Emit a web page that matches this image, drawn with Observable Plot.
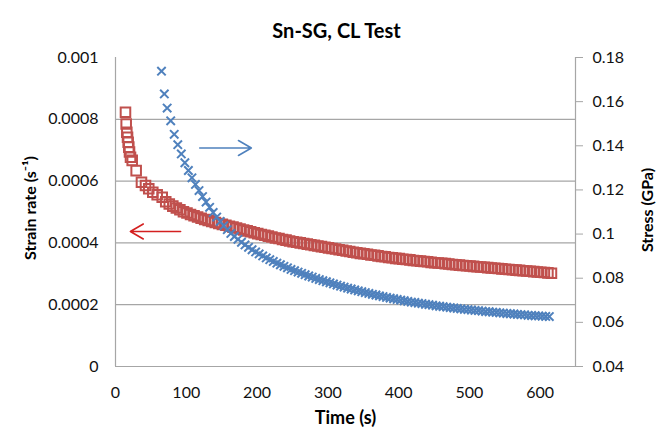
<!DOCTYPE html>
<html><head><meta charset="utf-8">
<script src="https://cdn.jsdelivr.net/npm/d3@7"></script>
<script src="https://cdn.jsdelivr.net/npm/@observablehq/plot@0.6"></script>
<style>body{margin:0;background:#fff}</style>
</head><body><div id="chart"></div>
<script>
const title = "Sn-SG, CL Test";
const xLabel = "Time (s)";
const yLeftLabel = "Strain rate (s\u207B\u00B9)";
const yRightLabel = "Stress (GPa)";
const timeTicks = [0, 100, 200, 300, 400, 500, 600];
const strainTicks = [0, 0.0002, 0.0004, 0.0006, 0.0008, 0.001];
const stressTicks = [0.04, 0.06, 0.08, 0.1, 0.12, 0.14, 0.16, 0.18];
const gridStrain = [0.0002, 0.0004, 0.0006, 0.0008];

// Strain rate series (red squares), values in 10^-6 s^-1
const timeRed = [14.1,15.1,16,17,17.9,18.8,19.8,21.2,23.6,29.2,36.7,42.4,47,52.7,58.9,66,
71,76,81,86,91,96,101,106,111,116,121,126,131,136,141,146,151,156,161,166,
171,176,181,186,191,196,201,206,211,216,221,226,231,236,241,246,251,256,261,266,
271,276,281,286,291,296,301,306,311,316,321,326,331,336,341,346,351,356,361,366,
371,376,381,386,391,396,401,406,411,416,421,426,431,436,441,446,451,456,461,466,
471,476,481,486,491,496,501,506,511,516,521,526,531,536,541,546,551,556,561,566,
571,576,581,586,591,596,601,606,611,616];
const strainRateMicro = [823,785,758,742,726,710,694,677,667,634,596,586,575,564,556,548,
533,526,519,513,507,501,497,492,488,484,480,476,473,469,466,463,460,457,454,451,
448,445,442,439,436,433,430,427,425,422,419,416,414,411,409,406,404,402,400,398,
396,394,392,390,388,386,384,382,380,378,376,374,372,370,368,366,365,363,361,360,
358,356,355,353,352,350,349,347,346,345,343,342,341,340,339,337,336,335,334,333,
332,330,329,328,327,326,325,324,323,322,321,320,319,318,317,316,315,314,313,312,
311,310,309,308,307,306,305,304,303,302];

// Stress series (blue crosses), GPa
const timeBlue = [65,69,73,78,83,88,93,98,103,108,113,118,
123,128,133,138,143,148,153,158,163,168,173,178,183,188,193,198,203,208,213,218,
223,228,233,238,243,248,253,258,263,268,273,278,283,288,293,298,303,308,313,318,
323,328,333,338,343,348,353,358,363,368,373,378,383,388,393,398,403,408,413,418,
423,428,433,438,443,448,453,458,463,468,473,478,483,488,493,498,503,508,513,518,
523,528,533,538,543,548,553,558,563,568,573,578,583,588,593,598,603,608,613];
const stressGPa = [0.1738,0.1635,0.1571,0.1513,0.1452,0.1405,0.1363,0.1323,0.1288,0.1255,0.1225,0.1197,
0.1170,0.1145,0.1121,0.1098,0.1077,0.1057,0.1038,0.1020,0.1003,0.0989,0.0976,0.0963,0.0951,0.0940,0.0929,0.0919,0.0910,0.0901,0.0892,0.0884,
0.0876,0.0868,0.0861,0.0854,0.0847,0.0840,0.0834,0.0828,0.0822,0.0816,0.0810,0.0805,0.0799,0.0794,0.0789,0.0784,0.0779,0.0774,0.0769,0.0764,
0.0760,0.0755,0.0751,0.0747,0.0743,0.0739,0.0735,0.0731,0.0727,0.0724,0.0720,0.0717,0.0713,0.0710,0.0707,0.0704,0.0701,0.0698,0.0695,0.0692,
0.0690,0.0687,0.0685,0.0682,0.0680,0.0678,0.0675,0.0673,0.0671,0.0669,0.0667,0.0665,0.0663,0.0661,0.0659,0.0658,0.0656,0.0654,0.0653,0.0651,
0.0649,0.0648,0.0646,0.0645,0.0643,0.0642,0.0640,0.0639,0.0638,0.0636,0.0635,0.0634,0.0632,0.0631,0.0630,0.0629,0.0628,0.0627,0.0626];

// Annotation arrows (data units)
const arrowStressTimes = [119, 192];   // tail, tip
const arrowStressLevel = 0.139;
const arrowStrainTimes = [92, 21];     // tail, tip
const arrowStrainLevel = 0.000437;

const stressMin = 0.04, stressMax = 0.18, strainMax = 0.001;
const toY = s => (s - stressMin) / (stressMax - stressMin) * strainMax;
const fromY = v => stressMin + v / strainMax * (stressMax - stressMin);

const redData = timeRed.map((t, i) => ({t, v: strainRateMicro[i] * 1e-6}));
const blueData = timeBlue.map((t, i) => ({t, v: toY(stressGPa[i])}));

const gray = "#a6a6a6";
const redC = "#c0504d", blueC = "#4f81bd";

const chart = Plot.plot({
  width: 664, height: 437,
  marginTop: 57, marginRight: 89, marginBottom: 71, marginLeft: 115,
  style: {fontFamily: "Lato, 'Open Sans', sans-serif", fontSize: "16px", background: "#fff"},
  x: {domain: [0, 650]},
  y: {domain: [0, strainMax]},
  marks: [
    Plot.ruleY(gridStrain, {stroke: gray, strokeWidth: 1.2}),
    Plot.ruleX([0], {stroke: gray, strokeWidth: 1.2}),
    Plot.ruleX([650], {stroke: gray, strokeWidth: 1.2}),
    Plot.ruleY([0], {stroke: gray, strokeWidth: 1.2, x1: 0, x2: 660}),
    Plot.axisX(timeTicks, {tickSize: 0, tickPadding: 20, fontSize: 16, label: null, fill: "#111"}),
    Plot.axisY(strainTicks, {anchor: "left", tickSize: 0, tickPadding: 17, fontSize: 16, label: null, fill: "#111",
      tickFormat: d => String(+d.toFixed(5))}),
    Plot.axisY(stressTicks.map(toY), {anchor: "right", tickSize: 7, tickPadding: 10, fontSize: 16, label: null,
      stroke: gray, fill: "#111", tickFormat: d => String(+fromY(d).toFixed(2))}),
    Plot.dot(redData, {x: "t", y: "v", symbol: "square", r: 5.4, stroke: redC, strokeWidth: 2, fill: "none"}),
    Plot.dot(blueData, {x: "t", y: "v", symbol: "times", r: 3.9, stroke: blueC, strokeWidth: 2}),
    Plot.arrow([0], {x1: () => arrowStressTimes[0], x2: () => arrowStressTimes[1],
      y1: () => toY(arrowStressLevel), y2: () => toY(arrowStressLevel),
      stroke: blueC, strokeWidth: 1.6, headLength: 14, headAngle: 60}),
    Plot.arrow([0], {x1: () => arrowStrainTimes[0], x2: () => arrowStrainTimes[1],
      y1: () => arrowStrainLevel, y2: () => arrowStrainLevel,
      stroke: "#d42020", strokeWidth: 1.6, headLength: 14, headAngle: 60}),
    Plot.text([title], {text: d => d, frameAnchor: "top", dy: -34, dx: -9, fontSize: 20, fontWeight: "bold"}),
    Plot.text([xLabel], {text: d => d, frameAnchor: "bottom", dy: 57, fontSize: 18, fontWeight: "bold"}),
    Plot.text([yLeftLabel], {text: d => d, frameAnchor: "left", textAnchor: "middle", dx: -85, dy: -4, rotate: -90, fontSize: 16, fontWeight: "bold"}),
    Plot.text([yRightLabel], {text: d => d, frameAnchor: "right", textAnchor: "middle", dx: 72, dy: -2, rotate: -90, fontSize: 16, fontWeight: "bold"})
  ]
});
document.getElementById("chart").appendChild(chart);
</script>
</body></html>
